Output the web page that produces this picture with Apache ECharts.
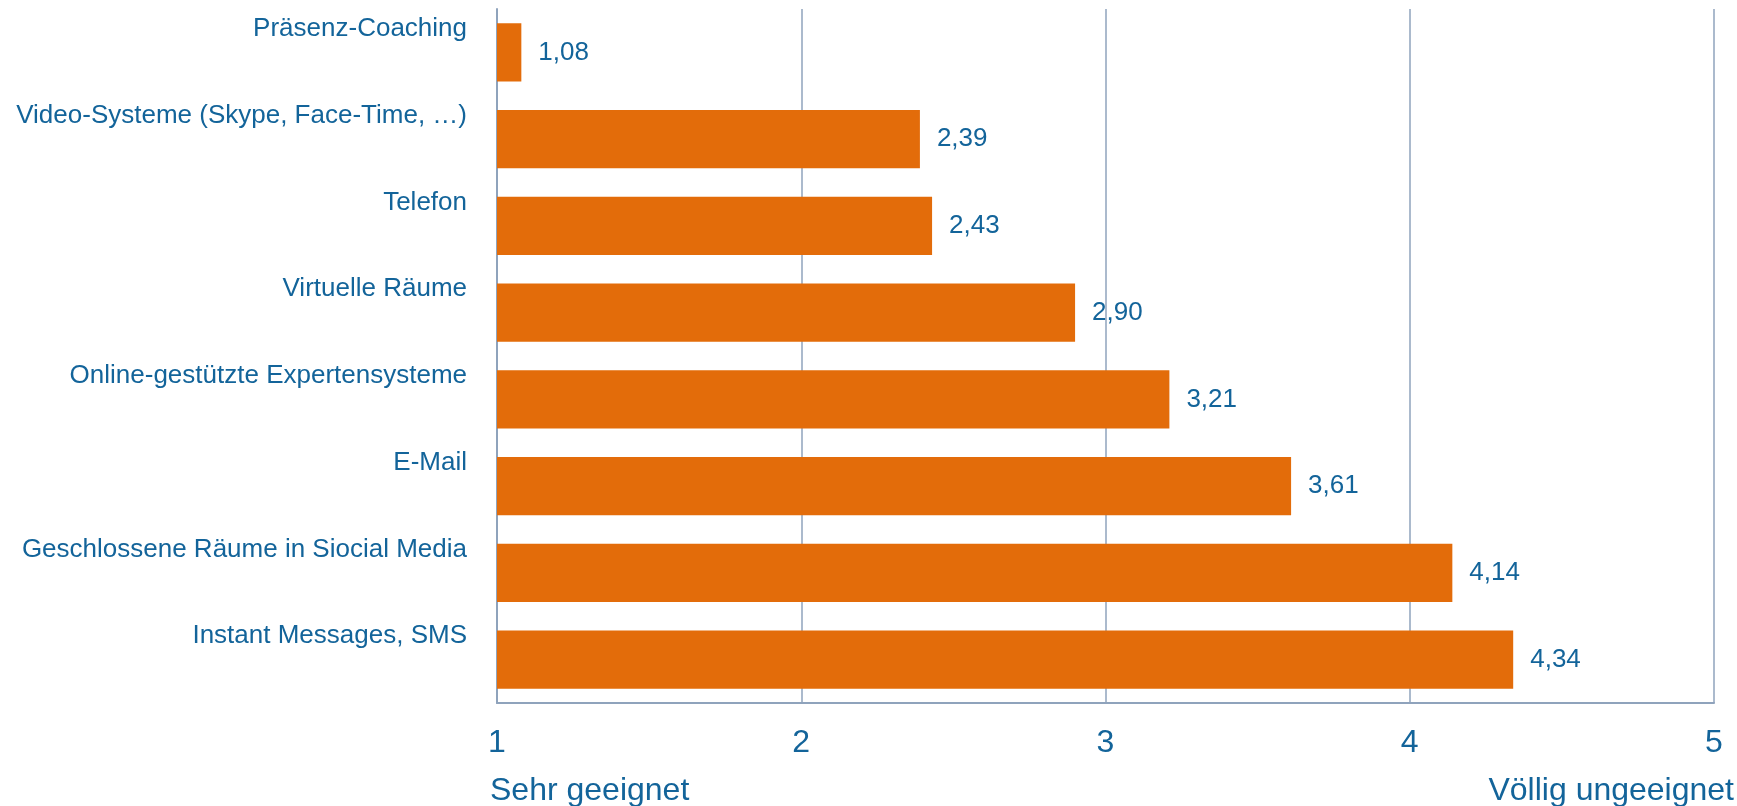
<!DOCTYPE html>
<html>
<head>
<meta charset="utf-8">
<script src="https://cdn.jsdelivr.net/npm/echarts@6/dist/echarts.min.js"></script>
<style>
  html, body { margin: 0; padding: 0; background: #fff; }
  #chart { width: 1737px; height: 806px; }
</style>
</head>
<body>
<div id="chart"></div>
<script>
"use strict";

var categories = [
  'Präsenz-Coaching',
  'Video-Systeme (Skype, Face-Time, …)',
  'Telefon',
  'Virtuelle Räume',
  'Online-gestützte Expertensysteme',
  'E-Mail',
  'Geschlossene Räume in Siocial Media',
  'Instant Messages, SMS'
];
var values = [1.08, 2.39, 2.43, 2.90, 3.21, 3.61, 4.14, 4.34];
var scaleEnds = ['Sehr geeignet', 'Völlig ungeeignet'];

var FONT = '"Liberation Sans", Arial, sans-serif';
var BLUE = '#13649a';
var GRID = '#8fa3bc';
var FS = 26;
var FS_X = 32;

var chart = echarts.init(document.getElementById('chart'));

var option = {
  animation: false,
  textStyle: { fontFamily: FONT },
  grid: {
    left: 497,
    top: 9,
    right: 23,
    bottom: 103,
    containLabel: false,
    outerBoundsMode: 'none'
  },
  xAxis: {
    type: 'value',
    min: 1,
    max: 5,
    interval: 1,
    axisLine: { show: true, lineStyle: { color: GRID, width: 2 } },
    axisTick: { show: false },
    axisLabel: {
      color: BLUE,
      fontSize: FS_X,
      fontFamily: FONT,
      margin: 24
    },
    splitLine: { show: true, lineStyle: { color: GRID, width: 1.5 } }
  },
  yAxis: {
    type: 'category',
    inverse: true,
    data: categories,
    axisLine: { show: true, lineStyle: { color: GRID, width: 2 } },
    axisTick: { show: false },
    axisLabel: {
      color: BLUE,
      fontSize: FS,
      fontFamily: FONT,
      margin: 30,
      interval: 0,
      showMinLabel: true,
      showMaxLabel: true,
      hideOverlap: false,
      lineHeight: 47,
      // label sits above the bar, like in the original
      formatter: function (v) { return v + '\n '; }
    },
    splitLine: { show: false }
  },
  series: [
    {
      type: 'bar',
      data: values,
      barWidth: '67%',
      itemStyle: { color: '#e36c0a' },
      label: {
        show: true,
        position: 'right',
        distance: 17,
        color: BLUE,
        fontSize: FS,
        fontFamily: FONT,
        formatter: function (p) {
          return p.value.toFixed(2).replace('.', ',');
        }
      }
    }
  ],
  graphic: [
    {
      type: 'text',
      left: 490,
      top: 775,
      style: { text: scaleEnds[0], fill: BLUE, font: FS_X + 'px ' + FONT }
    },
    {
      type: 'text',
      right: 3,
      top: 775,
      style: { text: scaleEnds[1], fill: BLUE, font: FS_X + 'px ' + FONT }
    }
  ]
};

chart.setOption(option);
</script>
</body>
</html>
